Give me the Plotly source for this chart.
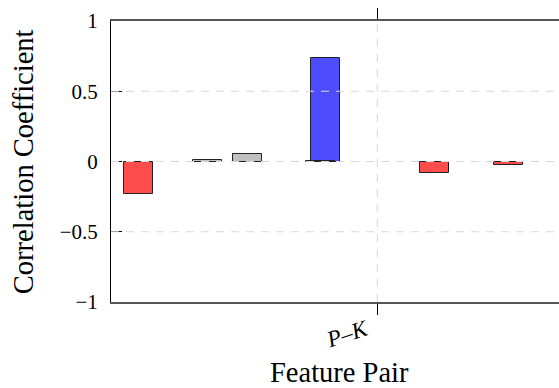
import plotly.graph_objects as go

# Data
bar_x = [-2.39, -1.70, -1.30, -0.52, -0.57, 0.57, 1.31]   # offsets from the P–K tick
bar_values = [-0.23, 0.008, 0.05, 0.74, 0.005, -0.083, -0.022]
tick_vals = [0]
tick_text = ["<i>P</i>–<i>K</i>"]
y_ticks = [-1, -0.5, 0, 0.5, 1]
y_tick_text = ["−1", "−0.5", "0", "0.5", "1"]

RED = "#ff4d4d"
BLUE = "#4d4dff"
GRAY = "#c0c0c0"


def colour(v):
    if v < 0:
        return RED
    if v > 0.5:
        return BLUE
    return GRAY


FONT = "Liberation Serif"

fig = go.Figure()
fig.add_trace(go.Bar(
    x=bar_x, y=bar_values, width=0.295,
    marker=dict(color=[colour(v) for v in bar_values],
                line=dict(color="#222222", width=1)),
    showlegend=False, hoverinfo="skip",
))

# dashed grid lines drawn above the bars
shapes = []
for yv in [-0.5, 0, 0.5]:
    shapes.append(dict(type="line", xref="paper", yref="y", x0=0, x1=1, y0=yv, y1=yv,
                       line=dict(color="#d8d8d8", width=1, dash="8px,7px"), layer="above"))
for xv in tick_vals:
    shapes.append(dict(type="line", xref="x", yref="paper", x0=xv, x1=xv, y0=0, y1=1,
                       line=dict(color="#d8d8d8", width=1, dash="8px,7px"), layer="above"))

fig.update_layout(
    width=559, height=388,
    margin=dict(l=111, r=0, t=21, b=86),
    paper_bgcolor="white", plot_bgcolor="white",
    font=dict(family=FONT, color="black", size=21),
    bargap=0,
    shapes=shapes,
    annotations=[
        dict(text="Feature Pair", xref="paper", yref="paper", x=0.511, y=-0.25,
             xanchor="center", yanchor="middle", showarrow=False,
             font=dict(family=FONT, size=28.5, color="black")),
        dict(text="Correlation Coefficient", xref="paper", yref="paper", x=-0.195, y=0.5,
             xanchor="center", yanchor="middle", showarrow=False, textangle=-90,
             font=dict(family=FONT, size=28.5, color="black")),
    ],
)

fig.update_xaxes(
    range=[-2.663, 1.817],
    tickmode="array", tickvals=tick_vals, ticktext=tick_text,
    tickangle=-18, ticks="outside", ticklen=11, tickwidth=1.2, tickcolor="black",
    showgrid=False, zeroline=False,
    showline=True, linecolor="#555555", linewidth=1.5, mirror="ticks",
    ticklabelshift=-12, ticklabelstandoff=-7,
    tickfont=dict(family=FONT, size=23),
)
fig.update_yaxes(
    range=[-1, 1],
    tickmode="array", tickvals=y_ticks, ticktext=y_tick_text,
    ticks="inside", ticklen=11, tickwidth=1, tickcolor="black",
    showgrid=False, zeroline=False,
    showline=True, linecolor="black", linewidth=1, mirror=False,
    ticklabelstandoff=8,
    tickfont=dict(family=FONT, size=21),
)

fig.write_html("out.html", config={"displayModeBar": False},
               post_script="document.body.style.margin='0';document.body.style.overflow='hidden';")
